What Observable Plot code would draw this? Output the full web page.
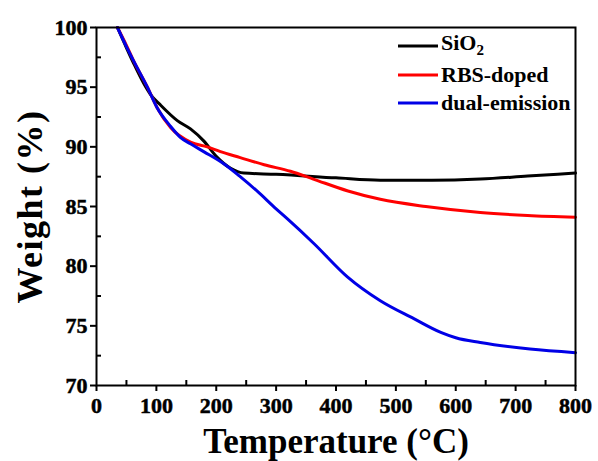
<!DOCTYPE html>
<html><head><meta charset="utf-8">
<script src="https://cdn.jsdelivr.net/npm/d3@7"></script>
<script src="https://cdn.jsdelivr.net/npm/@observablehq/plot@0.6"></script>
<style>
body{margin:0;background:#fff;}
#wrap{position:relative;width:598px;height:461px;}
#wrap svg text{font-weight:bold;}
#wrap svg g[aria-label$="tick label"] text{stroke:#000;stroke-width:0.5px;}
#wrap svg g[aria-label="y-axis label"] text{letter-spacing:1.5px;}
#legend{position:absolute;left:398px;top:32px;font-family:"Liberation Serif","Times New Roman",serif;font-weight:bold;font-size:22px;line-height:28.5px;color:#000;}
#legend div{display:flex;align-items:center;height:28.5px;}
#legend svg{margin-right:3px;}
sub{font-size:15px;vertical-align:-5px;}
</style></head>
<body><div id="wrap"><div id="legend"></div></div>
<script>
const seriesNames = ["SiO2", "RBS-doped", "dual-emission"];
const seriesColors = ["#000000", "#ff0000", "#0000e6"];

const sio2T = [35, 50, 62, 79, 90, 107, 135, 157, 179, 200, 224, 246, 300, 400, 474, 560, 641, 720, 800];
const sio2W = [100, 98.3, 97.0, 95.3, 94.4, 93.5, 92.2, 91.5, 90.5, 89.2, 88.2, 87.8, 87.7, 87.4, 87.2, 87.2, 87.3, 87.55, 87.8];

const rbsT = [35, 50, 62, 85, 101, 124, 157, 185, 207, 240, 280, 324, 362, 420, 474, 550, 641, 720, 800];
const rbsW = [100, 98.5, 97.2, 95.0, 93.3, 91.6, 90.4, 90.0, 89.6, 89.1, 88.5, 87.95, 87.3, 86.3, 85.6, 85.0, 84.5, 84.25, 84.1];

const dualT = [35, 50, 62, 85, 101, 124, 140, 157, 179, 212, 240, 268, 300, 318, 363, 419, 474, 530, 575, 600, 641, 724, 800];
const dualW = [100, 98.4, 97.2, 95.0, 93.3, 91.7, 90.8, 90.25, 89.6, 88.6, 87.5, 86.3, 84.8, 84.0, 81.9, 79.1, 77.1, 75.6, 74.45, 74.0, 73.6, 73.05, 72.75];

const xMajor = [0, 100, 200, 300, 400, 500, 600, 700, 800];
const xMinor = [50, 150, 250, 350, 450, 550, 650, 750];
const yMajor = [70, 75, 80, 85, 90, 95, 100];
const yMinor = [72.5, 77.5, 82.5, 87.5, 92.5, 97.5];

const data = [];
[[sio2T, sio2W], [rbsT, rbsW], [dualT, dualW]].forEach(([T, W], i) => {
  T.forEach((t, j) => data.push({series: seriesNames[i], T: t, W: W[j]}));
});

const font = "'Liberation Serif','Times New Roman',serif";
const chart = Plot.plot({
  width: 598, height: 461,
  marginLeft: 96, marginRight: 23, marginTop: 27, marginBottom: 76,
  style: {fontFamily: font, fontWeight: "bold", color: "#000", background: "#fff"},
  x: {domain: [0, 800]},
  y: {domain: [70, 100]},
  color: {domain: seriesNames, range: seriesColors},
  marks: [
    Plot.line(data, {x: "T", y: "W", z: "series", stroke: "series", strokeWidth: 3, curve: "monotone-x"}),
    Plot.frame({stroke: "#000", strokeWidth: 2}),
    Plot.axisX({ticks: xMajor, tickSize: 6, tickPadding: 6, fontSize: 22, fontWeight: "bold", strokeWidth: 2, label: null}),
    Plot.axisX({ticks: xMinor, tickSize: -5, text: null, strokeWidth: 2, label: null}),
    Plot.axisX({ticks: [], label: "Temperature (°C)", labelAnchor: "center", labelArrow: false, labelOffset: 67, fontSize: 35, fontWeight: "bold"}),
    Plot.axisY({ticks: yMajor, tickSize: 6, tickPadding: 3, fontSize: 22, fontWeight: "bold", strokeWidth: 2, label: null}),
    Plot.axisY({ticks: yMinor, tickSize: -5, text: null, strokeWidth: 2, label: null}),
    Plot.axisY({ticks: [], label: "Weight (%)", labelAnchor: "center", labelArrow: false, labelOffset: 80, fontSize: 36, fontWeight: "bold"})
  ]
});
const wrap = document.getElementById("wrap");
wrap.insertBefore(chart, wrap.firstChild);

const legend = document.getElementById("legend");
const labelsHTML = ["SiO<sub>2</sub>", "RBS-doped", "dual-emission"];
seriesNames.forEach((n, i) => {
  const row = document.createElement("div");
  row.innerHTML = `<svg width="40" height="6"><line x1="0" y1="3" x2="40" y2="3" stroke="${seriesColors[i]}" stroke-width="3"/></svg><span>${labelsHTML[i]}</span>`;
  legend.appendChild(row);
});
</script>
</body></html>
